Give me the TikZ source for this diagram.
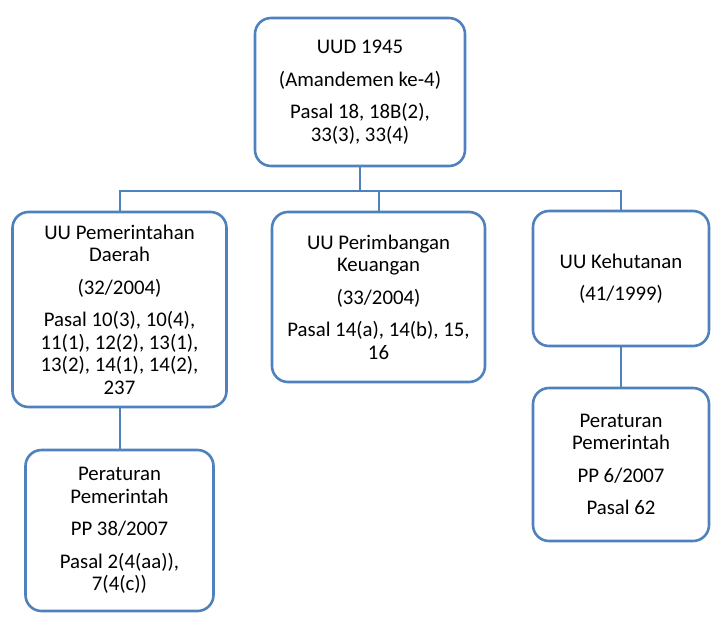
\documentclass[tikz,border=0pt]{standalone}
\usepackage{fontspec}
\setmainfont{Carlito}
\usepackage{tikz}
\definecolor{boxblue}{RGB}{79,129,189}
\tikzset{
  lawbox/.style={draw=boxblue, line width=2.6pt, rounded corners=16pt, align=center,
    inner sep=2pt, font=\fontsize{20.8}{22.5}\selectfont},
  link/.style={draw=boxblue, line width=2pt}
}

\begin{document}
\begin{tikzpicture}[x=1pt,y=-1pt]

 \useasboundingbox (0,0) rectangle (723,619);

 \node[lawbox, minimum width=210pt, minimum height=148pt] (uud) at (360,92)
   {UUD 1945\\[10pt](Amandemen ke-4)\\[10pt]Pasal 18, 18B(2),\\33(3), 33(4)};

% second row
 \node[lawbox, minimum width=214pt, minimum height=195pt] (pemda) at (119.5,309.5)
   {UU Pemerintahan\\Daerah\\[10pt](32/2004)\\[10pt]Pasal 10(3), 10(4),\\11(1), 12(2), 13(1),\\13(2), 14(1), 14(2),\\237};
 \node[lawbox, minimum width=213pt, minimum height=170pt] (keu) at (378.5,297)
   {UU Perimbangan\\Keuangan\\[10pt](33/2004)\\[10pt]Pasal 14(a), 14(b), 15,\\16};
 \node[lawbox, minimum width=176pt, minimum height=135pt] (hutan) at (621,278.5)
   {UU Kehutanan\\[10pt](41/1999)};

% third row
 \node[lawbox, minimum width=188pt, minimum height=161pt] (pp38) at (119.5,530.5)
   {Peraturan\\Pemerintah\\[10pt]PP 38/2007\\[10pt]Pasal 2(4(aa)),\\7(4(c))};
 \node[lawbox, minimum width=176pt, minimum height=153pt] (pp6) at (621,464.5)
   {Peraturan\\Pemerintah\\[10pt]PP 6/2007\\[10pt]Pasal 62};

 \draw[link] (uud.south) -- ++(0,24) coordinate (bus); % stem down to the bus
 \draw[link] (bus) -| (pemda.north);
 \draw[link] (bus) -| (keu.north);
 \draw[link] (bus) -| (hutan.north);

 \draw[link] (pemda.south) -- (pp38.north);
 \draw[link] (hutan.south) -- (pp6.north);

\end{tikzpicture}
\end{document}
